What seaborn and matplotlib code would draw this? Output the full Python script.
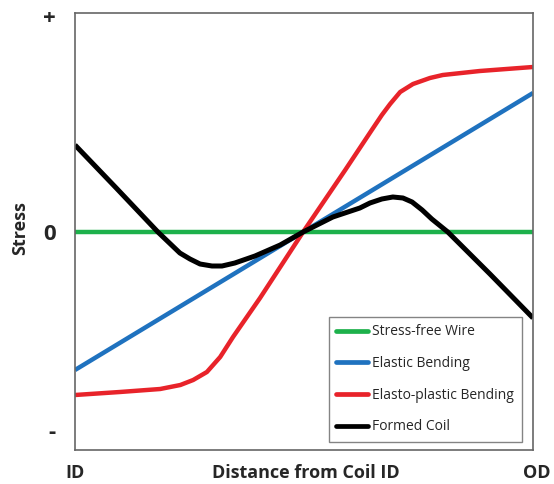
#importing the necessary libraries
import numpy as np
import pandas as pd
import matplotlib
matplotlib.use("Agg")
import matplotlib.pyplot as plt
import seaborn as sns

#positions across the coil section, 0 = ID and 1 = OD
free_x = [0.0, 1.0]
free_y = [0.0, 0.0]

elastic_x = [0.0, 1.0]
elastic_y = [-0.69, 0.695]

plastic_x = [0.0, 0.098, 0.186, 0.230, 0.258, 0.288, 0.317, 0.345, 0.404, 0.498,
             0.590, 0.648, 0.670, 0.688, 0.710, 0.738, 0.775, 0.803, 0.884, 1.0]
plastic_y = [-0.815, -0.80, -0.785, -0.765, -0.74, -0.70, -0.625, -0.525, -0.33, 0.0,
             0.31, 0.51, 0.585, 0.64, 0.70, 0.74, 0.77, 0.785, 0.805, 0.825]

coil_x = [0.0, 0.090, 0.181, 0.229, 0.251, 0.273, 0.299, 0.321, 0.349, 0.393, 0.448, 0.498,
          0.563, 0.622, 0.644, 0.670, 0.694, 0.716, 0.736, 0.758, 0.779, 0.814, 0.906, 1.0]
coil_y = [0.435, 0.22, 0.0, -0.105, -0.135, -0.16, -0.17, -0.17, -0.155, -0.12, -0.065, 0.0,
          0.075, 0.12, 0.145, 0.165, 0.175, 0.17, 0.15, 0.11, 0.065, 0.0, -0.21, -0.43]

series_names = ["Stress-free Wire", "Elastic Bending", "Elasto-plastic Bending", "Formed Coil"]
colors = ["#1db14b", "#1f72bf", "#e8232a", "#000000"]

#build one long table for seaborn
frames = []
for name, xs, ys in zip(series_names,
                        [free_x, elastic_x, plastic_x, coil_x],
                        [free_y, elastic_y, plastic_y, coil_y]):
    frames.append(pd.DataFrame({"x": xs, "y": ys, "curve": name}))
data = pd.concat(frames, ignore_index=True)

sns.set_style("white")
plt.rcParams['font.family'] = ['Open Sans', 'DejaVu Sans']

fig = plt.figure(figsize=(5.54, 4.84), dpi=100)
ax = fig.add_axes([75/554, 1 - 450/484, 458/554, 437/484])

sns.lineplot(data=data, x="x", y="y", hue="curve", hue_order=series_names,
             palette=colors, sort=False, estimator=None, units="curve",
             linewidth=3.2, ax=ax, legend=False)
for ln in ax.lines:
    ln.set_solid_joinstyle('round')
    ln.set_solid_capstyle('butt')
ax.lines[-1].set_linewidth(3.6)

ax.set_xlim(0, 1)
ax.set_ylim(-1.09, 1.095)

#the axis only has signs, no numbers
ax.set_xticks([])
ax.set_yticks([1.08, 0, -0.99], ["+", "0", "-"])
for lab in ax.get_yticklabels():
    lab.set_fontsize(16)
    lab.set_fontweight('bold')
ax.tick_params(axis='y', length=0, pad=14)
ax.set_xlabel("")
ax.set_ylabel("")
for side in ax.spines.values():
    side.set_color('#666666')
    side.set_linewidth(1.2)

#labels under the axis
ax.text(75/554, 1 - 473/484, "ID", transform=fig.transFigure, ha='center', va='center',
        fontsize=13, fontweight='bold')
ax.text(306/554, 1 - 473/484, "Distance from Coil ID", transform=fig.transFigure,
        ha='center', va='center', fontsize=13, fontweight='bold')
ax.text(537/554, 1 - 473/484, "OD", transform=fig.transFigure, ha='center', va='center',
        fontsize=13, fontweight='bold')
fig.text(20/554, 1 - 228/484, "Stress", rotation=90, ha='center', va='center',
         fontsize=13, fontweight='bold')

#legend with line handles
handles = [plt.Line2D([], [], color=c, linewidth=3.4) for c in colors]
leg = ax.legend(handles, series_names, loc='lower right', bbox_to_anchor=(0.976, 0.018),
                borderaxespad=0, fontsize=10, handlelength=2.3, handletextpad=0.3,
                labelspacing=1.2, frameon=True, fancybox=False, borderpad=0.55)
leg.get_frame().set_edgecolor('#666666')
leg.get_frame().set_linewidth(1.0)

plt.savefig('out.png', dpi=100)
